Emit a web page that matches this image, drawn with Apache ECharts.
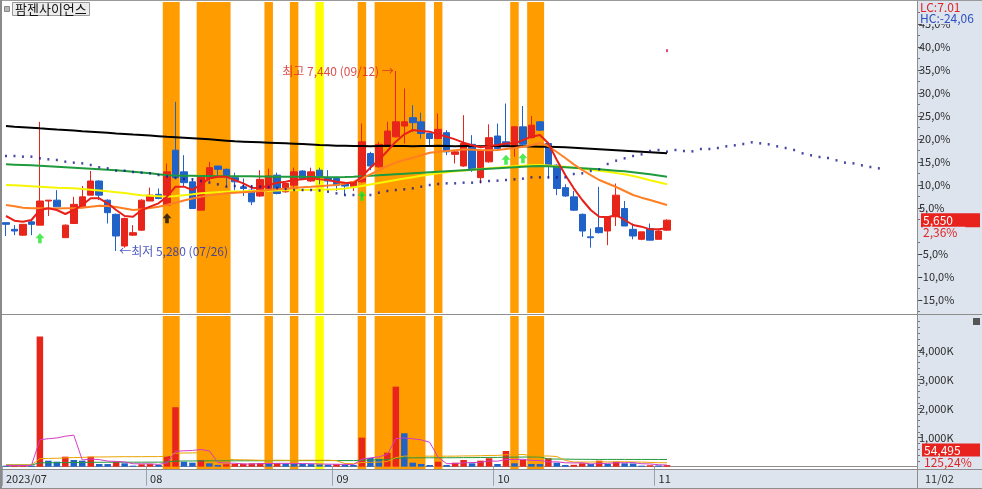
<!DOCTYPE html>
<html>
<head>
<meta charset="utf-8">
<script src="https://cdn.jsdelivr.net/npm/echarts@6.0.0/dist/echarts.min.js"></script>
<style>
html,body{margin:0;padding:0;background:#fff;overflow:hidden}
#chart{width:982px;height:489px}
</style>
</head>
<body>
<div id="chart"></div>
<script>
const stockName = '팜젠사이언스';
const dates = ['07/07','07/10','07/11','07/12','07/13','07/14','07/17','07/18','07/19','07/20','07/21','07/24','07/25','07/26','07/27','07/28','07/31',
'08/01','08/02','08/03','08/04','08/07','08/08','08/09','08/10','08/11','08/14','08/16','08/17','08/18','08/21','08/22','08/23','08/24','08/25','08/28','08/29','08/30','08/31',
'09/01','09/04','09/05','09/06','09/07','09/08','09/11','09/12','09/13','09/14','09/15','09/18','09/19','09/20','09/21','09/22','09/25','09/26','09/27',
'10/04','10/05','10/06','10/10','10/11','10/12','10/13','10/16','10/17','10/18','10/19','10/20','10/23','10/24','10/25','10/26','10/27','10/30','10/31',
'11/01','11/02'];
const futureSlots = 29;
const monthLabelIdx = [0, 17, 39, 58, 77];
const monthLabels = ['2023/07', '08', '09', '10', '11'];

const opens = [5620,5540,5470,5630,5590,5880,5890,5440,5610,5810,
 5950,6120,5890,5720,5340,5470,5530,5880,5960,5830,
 6490,6230,6110,5770,6150,6300,6260,6160,6050,6010,
 5940,6030,6190,5990,6070,6240,6120,6250,6160,6150,
 6090,6050,6110,6450,6290,6540,6650,6780,6880,6830,
 6690,6630,6700,6440,6300,6560,6160,6350,6660,6590,
 6520,6770,6640,6830,6570,6310,6040,5930,5720,5450,
 5560,5520,5690,5790,5540,5420,5550,5420,5530];
const closes = [5600,5520,5600,5600,5880,5890,5810,5590,5840,5930,
 6120,5950,5740,5460,5670,5500,5890,5950,5910,6230,
 6160,6100,5790,6170,6280,6260,6180,6110,6030,5870,
 6140,6180,5970,6090,6230,6150,6230,6180,6120,6070,
 6060,6110,6590,6300,6560,6720,6830,6830,6820,6690,
 6630,6740,6470,6470,6570,6270,6480,6640,6510,6540,
 6770,6560,6790,6730,6310,6030,5940,5770,5520,5440,
 5500,5690,5950,5580,5460,5510,5410,5520,5650];
const lows = [5460,5470,5460,5470,5590,5700,5810,5440,5610,5810,
 5950,5890,5610,5280,5320,5460,5520,5880,5900,5830,
 6160,6050,5790,5770,6120,6170,6050,6010,5940,5830,
 5930,6020,5960,5980,6040,6140,6110,6080,6030,6000,
 5950,6000,6100,6250,6280,6530,6640,6570,6710,6630,
 6540,6620,6430,6330,6290,6230,6090,6340,6500,6530,
 6410,6550,6630,6720,6150,5950,5930,5760,5450,5320,
 5490,5350,5580,5580,5420,5410,5410,5420,5520];
const highs = [5620,5590,5600,5640,6830,5890,6010,5600,5930,6060,
 6240,6130,5900,5730,5680,5590,5900,6040,6030,6330,
 7070,6430,6150,6180,6350,6300,6270,6220,6150,6070,
 6250,6270,6220,6100,6280,6250,6280,6280,6250,6170,
 6100,6120,6810,6470,6590,6830,7440,7230,7030,6940,
 6700,6930,6730,6480,6910,6670,6490,6800,6810,7050,
 6780,7020,6900,6840,6580,6320,6080,6000,5730,5550,
 6050,5700,6090,5880,5610,5510,5610,5530,5660];
const volumes = [30000,40000,50000,40000,4485000,207000,172000,345000,231000,207000,
 345000,93000,90000,172000,117000,35000,83000,90000,60000,370000,
 2050000,172000,140000,231000,117000,60000,85000,95000,105000,115000,
 125000,110000,120000,110000,100000,95000,90000,80000,70000,85000,
 70000,60000,1000000,300000,270000,483000,2760000,1152000,138000,93000,
 59000,172000,59000,138000,231000,117000,207000,290000,93000,541000,
 117000,231000,93000,90000,290000,138000,59000,65000,117000,93000,
 207000,93000,172000,117000,110000,20000,50000,43513,54495];

// price moving-average lines
const maRed = [5700,5644,5632,5652,5772,5792,5772,5724,5772,5832,
 5912,5912,5852,5772,5700,5692,5772,5812,5852,5932,
 6052,6052,6012,6080,6152,6170,6172,6130,6092,6040,
 6032,6072,6100,6112,6132,6140,6152,6140,6132,6112,
 6100,6092,6172,6280,6372,6480,6592,6680,6732,6720,
 6712,6680,6652,6620,6580,6550,6524,6540,6552,6570,
 6572,6610,6652,6672,6572,6372,6192,6032,5892,5772,
 5692,5684,5712,5652,5592,5572,5540,5540,5552];
const maOrange = [5832,5816,5800,5792,5792,5790,5790,5792,5792,5800,
 5812,5824,5820,5808,5790,5772,5780,5795,5812,5832,
 5860,5885,5910,5932,5950,5962,5972,5980,5986,5992,
 6000,6012,6020,6028,6036,6044,6050,6058,6065,6072,
 6090,6110,6152,6200,6250,6300,6340,6372,6400,6430,
 6460,6472,6480,6490,6500,6496,6492,6490,6492,6505,
 6516,6530,6550,6576,6540,6468,6396,6320,6252,6190,
 6132,6090,6048,6000,5952,5920,5892,5862,5832];
const maYellow = [6072,6068,6064,6058,6052,6046,6040,6036,6032,6024,
 6016,6006,5996,5986,5976,5962,5950,5944,5938,5932,
 5940,5950,5960,5972,5980,5986,5990,5994,5996,6000,
 6002,6004,6006,6008,6010,6012,6014,6016,6018,6020,
 6030,6045,6060,6078,6096,6114,6132,6150,6166,6182,
 6198,6212,6224,6236,6246,6256,6264,6272,6280,6288,
 6296,6302,6308,6312,6306,6298,6290,6280,6268,6256,
 6244,6232,6216,6200,6180,6156,6130,6105,6080];
const maGreen = [6320,6316,6312,6308,6304,6298,6292,6286,6280,6274,
 6268,6262,6256,6248,6240,6232,6222,6212,6200,6190,
 6186,6184,6182,6180,6180,6178,6178,6176,6176,6176,
 6174,6174,6172,6172,6170,6170,6168,6168,6166,6166,
 6168,6172,6178,6184,6190,6196,6202,6208,6214,6220,
 6226,6232,6238,6244,6250,6256,6262,6268,6274,6280,
 6286,6292,6296,6300,6296,6290,6284,6278,6272,6266,
 6260,6252,6244,6236,6226,6214,6200,6186,6172];
const maBlack = [6780,6772,6766,6760,6752,6745,6738,6732,6725,6718,
 6712,6705,6698,6691,6685,6678,6672,6665,6658,6650,
 6645,6640,6634,6628,6620,6612,6604,6596,6592,6588,
 6584,6580,6576,6572,6568,6564,6558,6552,6548,6544,
 6542,6540,6540,6538,6540,6542,6540,6540,6538,6540,
 6540,6542,6540,6538,6540,6540,6538,6540,6540,6538,
 6538,6536,6534,6532,6530,6528,6524,6518,6512,6506,
 6500,6494,6488,6482,6476,6470,6464,6458,6452];
const dottedLine = [6420,6420,6412,6412,6392,6380,6372,6352,6340,6332,
 6312,6284,6272,6244,6244,6228,6220,6212,6192,6174,
 6156,6144,6140,6120,6102,6080,6052,6060,6060,6054,
 6052,6048,6036,6024,6012,6012,6012,6006,5992,5972,
 5952,5952,5946,5952,5980,6000,6012,6020,6032,6052,
 6072,6084,6092,6092,6100,6100,6112,6120,6124,6132,
 6140,6148,6164,6164,6164,6164,6164,6204,6212,6240,
 6260,6324,6364,6392,6420,6440,6480,6492,6472,6492,
 6480,6476,6504,6504,6516,6536,6548,6564,6584,6572,
 6560,6536,6516,6492,6452,6428,6408,6396,6368,6340,
 6332,6308,6288,6272];

// volume average lines (thousand shares)
const volMa5K = [40,40,40,40,929,964,991,1050,1088,232,
 260,244,193,181,163,101,99,99,77,128,
 531,548,558,593,542,144,127,118,92,92,
 105,110,115,116,113,107,103,95,87,84,
 79,73,257,303,340,423,963,993,961,925,
 840,323,104,104,132,143,150,197,188,250,
 250,254,215,214,164,168,134,128,134,94,
 108,115,136,136,140,102,94,68,56];
const volMa20K = [60,60,60,60,277,285,290,305,313,320,
 334,335,336,342,345,344,345,347,347,363,
 464,471,475,485,266,259,255,242,236,231,
 220,221,223,220,219,222,222,222,222,208,
 109,103,146,150,157,178,312,365,367,366,
 362,365,362,364,370,371,377,388,389,412,
 414,423,377,367,368,350,215,161,160,160,
 167,163,169,168,162,157,149,137,135];
const volMa60K = [60,60,59,59,132,135,137,141,144,147,
 152,152,153,154,155,155,155,156,156,161,
 194,196,197,200,201,201,202,202,203,204,
 205,206,207,208,208,209,209,210,210,210,
 210,210,226,230,234,241,286,304,305,306,
 306,308,308,309,312,313,315,319,319,328,
 329,332,333,334,264,263,261,256,254,252,
 250,250,251,250,250,250,250,249,248];

const orangeBands = [[19,20],[23,26],[31,31],[34,34],[42,42],[44,49],[51,51],[60,60],[62,63]];
const yellowBands = [[37,37]];
const greenSignalIdx = [4, 42, 59, 61];
const blackSignalIdx = [19];
const markerPoint = [78, 7684];

// ---------- styles ----------
const RED = '#e8251b', BLUE = '#2162c8';
const FONT = "'Noto Sans CJK KR', 'Noto Sans', sans-serif";
const axisText = { color: '#2b2b2b', fontSize: 11, fontFamily: FONT };
const panelBg = '#dde4ee';
const lineGray = '#8e8e8e';

const nSlots = dates.length + futureSlots;
const categories = dates.concat(Array.from({length: futureSlots}, (_, k) => 'f' + (k + 1)));
const last = closes.length - 1;
const base = closes[last - 1];
const fmtNum = v => Math.round(v).toLocaleString('en-US');
const fmtPct = v => v.toFixed(2).replace('.', ',');
const pctLabel = v => ((v / base - 1) * 100).toFixed(1).replace('.', ',') + '%';

const priceMin = 4536, priceMax = 8268;
const volMin = -80000, volMax = 5196000;
const majorPct = [-15,-10,-5,5,10,15,20,25,30,35,40,45];
const minorPct = [-17.5,-12.5,-7.5,-2.5,2.5,7.5,12.5,17.5,22.5,27.5,32.5,37.5,42.5,47.5];
const majorPrice = majorPct.map(p => base * (1 + p / 100));
const minorPrice = minorPct.map(p => base * (1 + p / 100));
const volMajor = [1000000, 2000000, 3000000, 4000000];
const volMinor = [200000,400000,600000,800000,1200000,1400000,1600000,1800000,2200000,2400000,2600000,2800000,3200000,3400000,3600000,3800000,4200000,4400000,4600000,4800000,5000000];

const candleData = opens.map((o, i) => [o, closes[i], lows[i], highs[i]]);
const volData = volumes.map((v, i) => ({
  value: v,
  itemStyle: { color: (i > 0 && v > volumes[i - 1]) ? RED : BLUE }
}));
const iMax = highs.indexOf(Math.max(...highs));
const iMin = lows.indexOf(Math.min(...lows));
const bandAreas = orangeBands.map(b => [{xAxis: b[0] - 0.5, itemStyle: {color: '#ff9c00'}}, {xAxis: b[1] + 0.5}])
  .concat(yellowBands.map(b => [{xAxis: b[0] - 0.5, itemStyle: {color: '#ffff00'}}, {xAxis: b[1] + 0.5}]));
const arrowPath = 'path://M5,0 L10,5 L7,5 L7,10 L3,10 L3,5 L0,5 Z';

const priceRect = { left: 1.75, top: 2, width: 915.25, height: 311 };
const volRect = { left: 1.75, top: 316, width: 915.25, height: 153 };

function priceLine(data, color, z) {
  return { type: 'line', xAxisIndex: 0, yAxisIndex: 0, data: data, showSymbol: false,
    lineStyle: { color: color, width: 2 }, z: z, silent: true };
}
function volLine(dataK, color) {
  return { type: 'line', xAxisIndex: 1, yAxisIndex: 2, data: dataK.map(v => v * 1000), showSymbol: false,
    lineStyle: { color: color, width: 1 }, z: 4, silent: true };
}

const chart = echarts.init(document.getElementById('chart'), null, { renderer: 'canvas' });
const option = {
  animation: false,
  backgroundColor: '#fff',
  title: {
    text: stockName, left: 12, top: 2, padding: [0, 3, 0, 3],
    backgroundColor: '#ececec', borderColor: '#9a9a9a', borderWidth: 1,
    textStyle: { fontSize: 13, color: '#111', fontWeight: 'normal', fontFamily: FONT, lineHeight: 14 }
  },
  // grids 2 and 3 overlay grids 0 and 1: they carry the bands and the minor ticks
  grid: [priceRect, volRect, priceRect, volRect],
  xAxis: [
    { type: 'category', gridIndex: 0, data: categories, boundaryGap: true,
      axisLine: { show: false }, axisTick: { show: false }, axisLabel: { show: false } },
    { type: 'category', gridIndex: 1, data: categories, boundaryGap: true,
      axisLine: { show: true, lineStyle: { color: lineGray } },
      axisTick: { show: true, length: 19, interval: (i) => monthLabelIdx.includes(i), lineStyle: { color: '#98a3b3' } },
      axisLabel: { show: true, interval: (i) => monthLabelIdx.includes(i), align: 'left', margin: 4,
        formatter: (v, i) => monthLabels[monthLabelIdx.indexOf(i)] || '', ...axisText } },
    { type: 'value', gridIndex: 2, min: -0.5, max: nSlots - 0.5, show: false, axisLine: { onZero: false } },
    { type: 'value', gridIndex: 3, min: -0.5, max: nSlots - 0.5, show: false, axisLine: { onZero: false } }
  ],
  yAxis: [
    { type: 'value', gridIndex: 0, position: 'right', min: priceMin, max: priceMax,
      splitLine: { show: false },
      axisLine: { show: true, onZero: false, lineStyle: { color: lineGray } },
      axisTick: { show: true, length: 5, customValues: majorPrice, lineStyle: { color: '#555' } },
      axisLabel: { show: true, customValues: majorPrice, formatter: pctLabel, margin: 2, ...axisText } },
    { type: 'value', gridIndex: 2, position: 'right', min: priceMin, max: priceMax,
      splitLine: { show: false }, axisLine: { show: false, onZero: false }, axisLabel: { show: false },
      axisTick: { show: true, length: 3, customValues: minorPrice, lineStyle: { color: '#777' } } },
    { type: 'value', gridIndex: 1, position: 'right', min: volMin, max: volMax,
      splitLine: { show: false },
      axisLine: { show: true, onZero: false, lineStyle: { color: lineGray } },
      axisTick: { show: true, length: 5, customValues: volMajor, lineStyle: { color: '#555' } },
      axisLabel: { show: true, customValues: volMajor, formatter: v => (v / 1000).toLocaleString('en-US') + 'K', margin: 2, ...axisText } },
    { type: 'value', gridIndex: 3, position: 'right', min: volMin, max: volMax,
      splitLine: { show: false }, axisLine: { show: false, onZero: false }, axisLabel: { show: false },
      axisTick: { show: true, length: 3, customValues: volMinor, lineStyle: { color: '#777' } } }
  ],
  series: [
    { type: 'scatter', xAxisIndex: 2, yAxisIndex: 1, data: [[0, 5000]], symbolSize: 0, z: 1, silent: true,
      markArea: { silent: true, data: bandAreas } },
    { type: 'scatter', xAxisIndex: 3, yAxisIndex: 3, data: [[0, 0]], symbolSize: 0, z: 1, silent: true,
      markArea: { silent: true, data: bandAreas } },
    { type: 'candlestick', xAxisIndex: 0, yAxisIndex: 0, data: candleData, barWidth: 7, z: 2,
      itemStyle: { color: RED, color0: BLUE, borderColor: RED, borderColor0: BLUE, borderWidth: 1 } },
    priceLine(maYellow, '#f6f600', 3),
    priceLine(maGreen, '#1f9a3c', 3),
    priceLine(maBlack, '#000000', 3),
    priceLine(maOrange, '#ff7f22', 3),
    priceLine(maRed, '#e8201a', 3),
    { type: 'scatter', xAxisIndex: 0, yAxisIndex: 0, data: dottedLine, symbol: 'rect', symbolSize: [2, 2.5],
      itemStyle: { color: '#18188c' }, z: 4, silent: true },
    { type: 'scatter', xAxisIndex: 0, yAxisIndex: 0, data: [markerPoint], symbol: 'rect', symbolSize: [2, 3],
      itemStyle: { color: '#d8204c' }, z: 4, silent: true },
    { type: 'scatter', xAxisIndex: 0, yAxisIndex: 0, data: greenSignalIdx.map(i => [i, lows[i]]),
      symbol: arrowPath, symbolSize: [9, 10], symbolOffset: [0, 13], itemStyle: { color: '#22e62a' }, z: 5, silent: true },
    { type: 'scatter', xAxisIndex: 0, yAxisIndex: 0, data: blackSignalIdx.map(i => [i, lows[i]]),
      symbol: arrowPath, symbolSize: [9, 10], symbolOffset: [0, 13], itemStyle: { color: '#111' }, z: 5, silent: true },
    { type: 'scatter', xAxisIndex: 0, yAxisIndex: 0, data: [[iMax, highs[iMax]]], symbolSize: 0, z: 6, silent: true,
      label: { show: true, position: 'left', distance: 2, color: '#d42020', fontSize: 12, fontFamily: FONT,
        formatter: () => '최고 ' + fmtNum(highs[iMax]) + ' (' + dates[iMax] + ') →' } },
    { type: 'scatter', xAxisIndex: 0, yAxisIndex: 0, data: [[iMin, lows[iMin]]], symbolSize: 0, z: 6, silent: true,
      label: { show: true, position: 'right', distance: 3, color: '#1f2fb0', fontSize: 12, fontFamily: FONT,
        formatter: () => '←최저 ' + fmtNum(lows[iMin]) + ' (' + dates[iMin] + ')' } },
    { type: 'bar', xAxisIndex: 1, yAxisIndex: 2, data: volData, barWidth: 6.5, barMinHeight: 1, z: 2, silent: true },
    volLine(volMa60K, '#23983c'),
    volLine(volMa20K, '#eaa400'),
    volLine(volMa5K, '#d23cc4')
  ]
};
chart.setOption(option);

const yPrice = chart.convertToPixel({ yAxisIndex: 0 }, closes[last]);
const yVol = chart.convertToPixel({ yAxisIndex: 2 }, volumes[last]);
const lcPct = (closes[last] / lows[iMin] - 1) * 100;
const hcPct = (closes[last] / highs[iMax] - 1) * 100;
const chgPct = (closes[last] / base - 1) * 100;
const volRatio = volumes[last] / volumes[last - 1] * 100;
const tf = FONT;
chart.setOption({
  graphic: { elements: [
    { type: 'rect', shape: { x: 917, y: 0, width: 65, height: 489 }, style: { fill: panelBg }, z: -10, silent: true },
    { type: 'rect', shape: { x: 0, y: 470, width: 982, height: 19 }, style: { fill: panelBg }, z: -10, silent: true },
    { type: 'line', shape: { x1: 0, y1: 314.5, x2: 982, y2: 314.5 }, style: { stroke: lineGray, lineWidth: 1 }, z: 50, silent: true },
    { type: 'line', shape: { x1: 0, y1: 469.5, x2: 982, y2: 469.5 }, style: { stroke: lineGray, lineWidth: 1 }, z: 50, silent: true },
    { type: 'line', shape: { x1: 0, y1: 488.5, x2: 982, y2: 488.5 }, style: { stroke: lineGray, lineWidth: 1 }, z: 50, silent: true },
    { type: 'line', shape: { x1: 917.5, y1: 0, x2: 917.5, y2: 489 }, style: { stroke: lineGray, lineWidth: 1 }, z: 50, silent: true },
    { type: 'line', shape: { x1: 0, y1: 0.5, x2: 982, y2: 0.5 }, style: { stroke: '#9a9a9a', lineWidth: 1 }, z: 50, silent: true },
    { type: 'rect', shape: { x: 0, y: 0, width: 2, height: 489 }, style: { fill: '#8a8a8a' }, z: 50, silent: true },
    { type: 'rect', shape: { x: 4.5, y: 6.5, width: 5, height: 5 }, style: { fill: '#b8b8b8', stroke: '#888', lineWidth: 1 }, z: 50, silent: true },
    { type: 'rect', shape: { x: 973, y: 318, width: 7, height: 7 }, style: { fill: '#555' }, z: 50, silent: true },
    { type: 'text', x: 920, y: 1, style: { text: 'LC:' + fmtPct(lcPct), fill: '#e02424', font: '12px ' + tf }, z: 60, silent: true },
    { type: 'text', x: 920, y: 12, style: { text: 'HC:' + fmtPct(hcPct), fill: '#2a4fc0', font: '12px ' + tf, backgroundColor: panelBg, padding: [0, 4, 0, 0] }, z: 60, silent: true },
    { type: 'rect', shape: { x: 921, y: yPrice - 7, width: 59, height: 14 }, style: { fill: '#e8231e' }, z: 60, silent: true },
    { type: 'text', x: 923, y: yPrice, style: { text: fmtNum(closes[last]), fill: '#fff', font: '12px ' + tf, verticalAlign: 'middle' }, z: 61, silent: true },
    { type: 'text', x: 923, y: yPrice + 12.5, style: { text: fmtPct(chgPct) + '%', fill: '#e02424', font: '12px ' + tf, verticalAlign: 'middle', backgroundColor: panelBg, padding: [0, 8, 0, 0] }, z: 60, silent: true },
    { type: 'rect', shape: { x: 922, y: yVol - 21.5, width: 58, height: 13 }, style: { fill: '#e8231e' }, z: 60, silent: true },
    { type: 'text', x: 924, y: yVol - 15, style: { text: fmtNum(volumes[last]), fill: '#fff', font: '12px ' + tf, verticalAlign: 'middle' }, z: 61, silent: true },
    { type: 'text', x: 924, y: yVol - 2.5, style: { text: fmtPct(volRatio) + '%', fill: '#e02424', font: '12px ' + tf, verticalAlign: 'middle' }, z: 60, silent: true },
    { type: 'text', x: 925, y: 479, style: { text: dates[last], fill: '#333', font: '11px ' + tf, verticalAlign: 'middle' }, z: 60, silent: true }
  ] }
});
</script>
</body>
</html>
